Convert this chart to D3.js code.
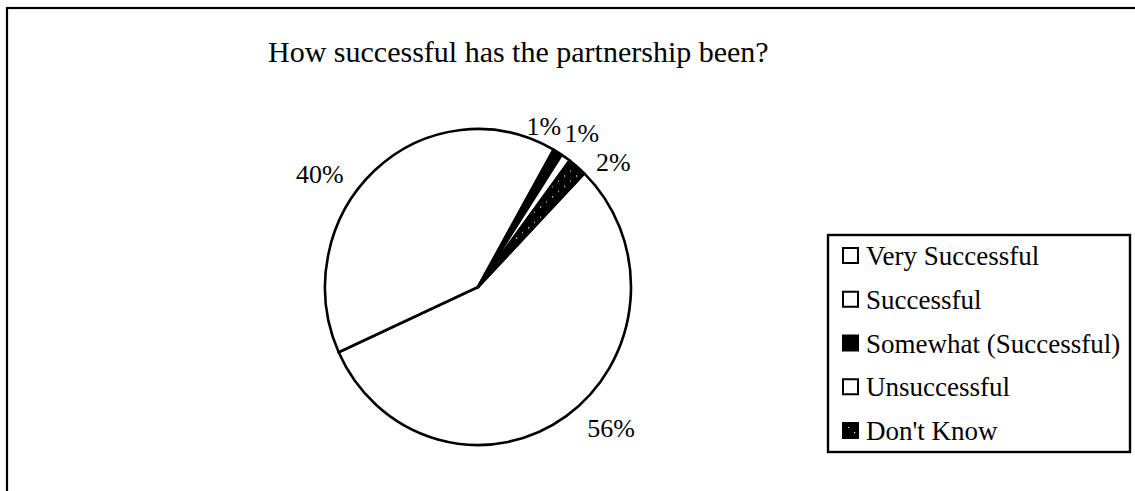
<!DOCTYPE html>
<html>
<head>
<meta charset="utf-8">
<script src="https://cdn.jsdelivr.net/npm/d3@7"></script>
<style>
  html, body { margin: 0; padding: 0; background: #fff; }
  svg { display: block; }
  text { font-family: "Liberation Serif", "DejaVu Serif", serif; fill: #000; }
</style>
</head>
<body>
<svg id="chart" width="1135" height="491"></svg>
<script>
// Survey responses
const categories = ["Very Successful", "Successful", "Somewhat (Successful)", "Unsuccessful", "Don't Know"];
const percents = [56, 40, 1, 1, 2];
const valueLabels = ["56%", "40%", "1%", "1%", "2%"];
const title = "How successful has the partnership been?";

// Slice fills: plain white, solid black, or black with white speckles
const fillKinds = ["white", "white", "black", "white", "speckle"];

// Label placement around the pie (angle shift in degrees, distance from centre)
const labelLayout = {
  "Very Successful": { shift: -9, dist: 191 },
  "Successful": { shift: -13, dist: 192 },
  "Somewhat (Successful)": { shift: -8.5, dist: 169 },
  "Unsuccessful": { shift: 0, dist: 181 },
  "Don't Know": { shift: 8, dist: 181 }
};

const svg = d3.select("#chart");

// Speckled pattern: mostly black with sparse white flecks
const defs = svg.append("defs");
const pat = defs.append("pattern")
  .attr("id", "speckle")
  .attr("patternUnits", "userSpaceOnUse")
  .attr("width", 12).attr("height", 10);
pat.append("rect").attr("width", 12).attr("height", 10).attr("fill", "#000");
pat.append("rect").attr("x", 2).attr("y", 2).attr("width", 1.2).attr("height", 1.2).attr("fill", "#fff");
pat.append("rect").attr("x", 8).attr("y", 7).attr("width", 1).attr("height", 1).attr("fill", "#fff");

const fillFor = k => k === "black" ? "#000" : k === "speckle" ? "url(#speckle)" : "#fff";

// Outer frame (runs off the right and bottom edges)
svg.append("rect")
  .attr("x", 7).attr("y", 8)
  .attr("width", 1140).attr("height", 500)
  .attr("fill", "none").attr("stroke", "#000").attr("stroke-width", 2.2);

// Title
svg.append("text")
  .attr("x", 268).attr("y", 62)
  .attr("font-size", 30)
  .text(title);

// Pie
const cx = 478, cy = 287, r = 153, yStretch = 158 / 153;
const startDeg = 44;
const rad = d => d * Math.PI / 180;

const data = categories.map((c, i) => ({ cat: c, value: percents[i], label: valueLabels[i], kind: fillKinds[i] }));

const pie = d3.pie()
  .sort(null)
  .value(d => d.value)
  .startAngle(rad(startDeg))
  .endAngle(rad(startDeg) + 2 * Math.PI);

const arcs = pie(data);
const arc = d3.arc().innerRadius(0).outerRadius(r);

const g = svg.append("g")
  .attr("transform", `translate(${cx},${cy}) scale(1,${yStretch})`);

g.selectAll("path.slice")
  .data(arcs)
  .join("path")
  .attr("class", "slice")
  .attr("d", arc)
  .attr("fill", d => fillFor(d.data.kind))
  .attr("stroke", "#000")
  .attr("stroke-width", 2.6)
  .attr("stroke-linejoin", "round");

// Value labels
svg.append("g").selectAll("text.val")
  .data(arcs)
  .join("text")
  .attr("class", "val")
  .attr("font-size", 26)
  .attr("text-anchor", "middle")
  .attr("dominant-baseline", "central")
  .attr("x", d => {
    const L = labelLayout[d.data.cat];
    const a = (d.startAngle + d.endAngle) / 2 + rad(L.shift);
    return cx + L.dist * Math.sin(a);
  })
  .attr("y", d => {
    const L = labelLayout[d.data.cat];
    const a = (d.startAngle + d.endAngle) / 2 + rad(L.shift);
    return cy - L.dist * Math.cos(a) * yStretch;
  })
  .text(d => d.data.label);

// Legend
const lgX = 828, lgY = 235, lgW = 302, lgH = 217;
const legend = svg.append("g");
legend.append("rect")
  .attr("x", lgX).attr("y", lgY)
  .attr("width", lgW).attr("height", lgH)
  .attr("fill", "#fff").attr("stroke", "#000").attr("stroke-width", 2.4);

const rowY = d3.scalePoint().domain(categories).range([265, 440]);

const rows = legend.selectAll("g.row")
  .data(data)
  .join("g")
  .attr("class", "row")
  .attr("transform", d => `translate(0,${rowY(d.cat)})`);

rows.append("rect")
  .attr("x", 843).attr("y", -17)
  .attr("width", 15).attr("height", 15)
  .attr("fill", d => fillFor(d.kind))
  .attr("stroke", "#000").attr("stroke-width", 2);

rows.append("text")
  .attr("x", 866).attr("y", 0)
  .attr("font-size", 27)
  .text(d => d.cat);
</script>
</body>
</html>
